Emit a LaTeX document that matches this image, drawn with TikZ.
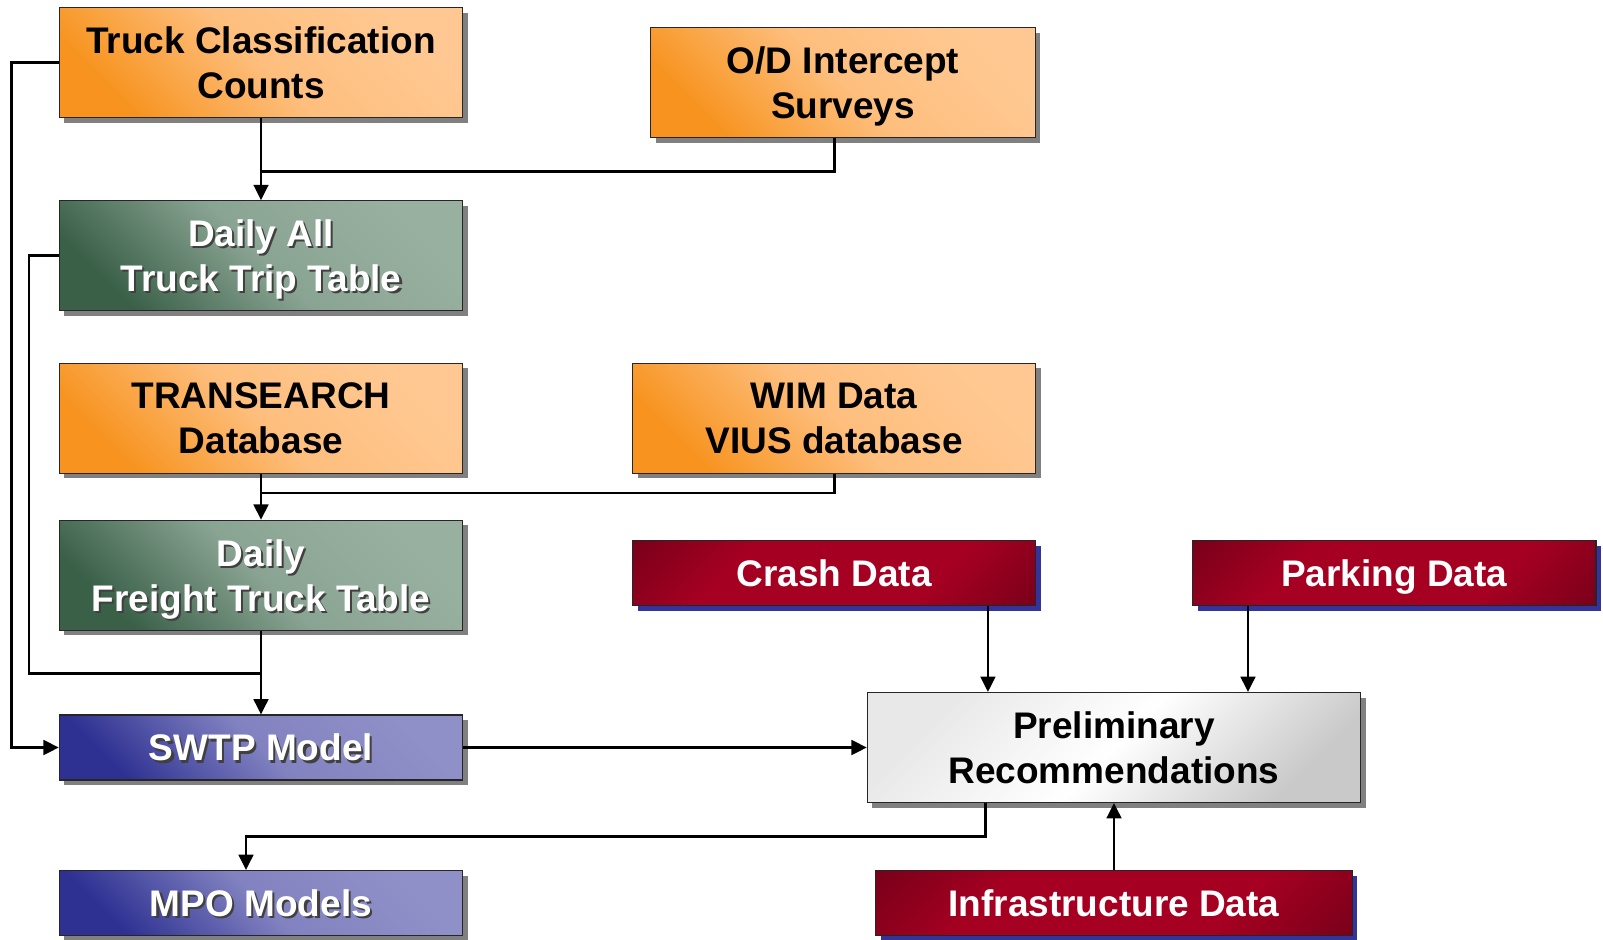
\documentclass[tikz,border=0pt]{standalone}
\usepackage{fontspec}
\setmainfont{Liberation Sans}
\usetikzlibrary{arrows.meta,shadows,calc}

\definecolor{orgDark}{HTML}{F7931E}
\definecolor{orgLight}{HTML}{FFC892}
\definecolor{grnDark}{HTML}{3A6048}
\definecolor{grnLight}{HTML}{98B0A0}
\definecolor{bluDark}{HTML}{2E3192}
\definecolor{bluLight}{HTML}{9090C8}
\definecolor{redDark}{HTML}{560014}
\definecolor{redMid}{HTML}{A50021}
\definecolor{shGray}{HTML}{808080}
\definecolor{shBlue}{HTML}{333399}

% dark corners, red body
\pgfdeclarehorizontalshading{redshade}{100bp}{color(0bp)=(redDark); color(33bp)=(redMid); color(67bp)=(redMid); color(100bp)=(redDark)}

% white text with a dark drop behind it
\newcommand{\shtxt}[1]{\makebox[0pt][l]{\kern1.6pt\raisebox{-1.6pt}{\textcolor{black!75}{#1}}}#1}

\begin{document}
\begin{tikzpicture}[x=0.75pt,y=0.75pt,yscale=-1,xscale=1,
  box/.style={draw=black!85, line width=0.8pt, align=center, inner sep=0pt,
    minimum width=302.5pt, minimum height=82.5pt, text depth=0pt,
    font=\fontsize{27.75}{33.75}\selectfont\bfseries,
    drop shadow={shadow xshift=3.75pt, shadow yshift=-3.75pt, fill=shGray, opacity=1}},
  short/.style={minimum height=48.75pt},
  orangebox/.style={box, text=black, top color=orgLight, bottom color=orgDark, middle color=orgLight!82!orgDark, shading angle=-45},
  greenbox/.style={box, text=white, top color=grnLight, bottom color=grnDark, middle color=grnLight!85!grnDark, shading angle=-45},
  bluebox/.style={box, short, text=white, top color=bluLight, bottom color=bluDark, middle color=bluLight!85!bluDark, shading angle=-45},
  redbox/.style={box, short, text=white, shade, shading=redshade, shading angle=-45,
    drop shadow={shadow xshift=3.75pt, shadow yshift=-3.75pt, fill=shBlue, opacity=1}},
  whitebox/.style={box, text=black, top color=gray!18, bottom color=gray!42, middle color=white, shading angle=45},
  link/.style={line width=2pt},
  arr/.style={link, -{Triangle[length=11.5pt,width=11pt]}}]
\useasboundingbox (0,0) rectangle (1603,939);

% Text Node
\draw (261,62.5) node [orangebox] (tcc) {Truck Classification\\Counts};
% Text Node
\draw (843,82.5) node [orangebox, minimum width=288.5pt] (od) {O/D Intercept\\Surveys};
% Text Node
\draw (261,255.7) node [greenbox] (dtt) {\shtxt{Daily All}\\\shtxt{Truck Trip Table}};
% Text Node
\draw (261,418.3) node [orangebox] (trs) {TRANSEARCH\\Database};
% Text Node
\draw (834.2,418.3) node [orangebox] (wim) {WIM Data\\VIUS database};
% Text Node
\draw (261,575.3) node [greenbox] (dft) {\shtxt{Daily}\\\shtxt{Freight Truck Table}};
% Text Node
\draw (834.2,573.3) node [redbox] (crash) {Crash Data};
% Text Node
\draw (1394.3,573.3) node [redbox] (park) {Parking Data};
% Text Node
\draw (261,747.5) node [bluebox] (swtp) {\shtxt{SWTP Model}};
% Text Node
\draw (1114,747.5) node [whitebox, minimum width=370pt] (prel) {Preliminary\\Recommendations};
% Text Node
\draw (261,903) node [bluebox] (mpo) {\shtxt{MPO Models}};
% Text Node
\draw (1114,903) node [redbox, minimum width=357.5pt] (infra) {Infrastructure Data};

% rails on the left
\coordinate (railA) at (11.7,0);
\coordinate (railB) at (29,0);
\coordinate (odJ) at ($(tcc.south)!0.65!(dtt.north)$);
\coordinate (wimJ) at ($(trs.south)!0.42!(dft.north)$);
\coordinate (dttJ) at ($(dft.south)!0.51!(swtp.north)$);
\coordinate (crashIn) at ($(prel.north west)!0.245!(prel.north east)$);
\coordinate (parkIn) at ($(prel.north west)!0.771!(prel.north east)$);
\coordinate (prelOut) at ($(prel.south west)!0.24!(prel.south east)$);
\coordinate (mpoLvl) at ($(prel.south)!0.5!(infra.north)$);
\coordinate (mpoIn) at ([xshift=-11.25pt]mpo.north);

%Straight Lines
\draw [arr] (tcc.south) -- (dtt.north);
\draw [link] (od.south -| wim.south) |- (odJ);
\draw [arr] (trs.south) -- (dft.north);
\draw [link] (wim.south) |- (wimJ);
\draw [arr] (dft.south) -- (swtp.north);
\draw [link] (dtt.west) -- (dtt.west -| railB) |- (dttJ);
\draw [arr] (tcc.west) -- (tcc.west -| railA) |- (swtp.west);
\draw [arr] (swtp.east) -- (prel.west);
\draw [arr] (crash.south -| crashIn) -- (crashIn);
\draw [arr] (park.south -| parkIn) -- (parkIn);
\draw [arr] (infra.north) -- (prel.south);
\draw [arr] (prelOut) -- (prelOut |- mpoLvl) -| (mpoIn);

\end{tikzpicture}
\end{document}
